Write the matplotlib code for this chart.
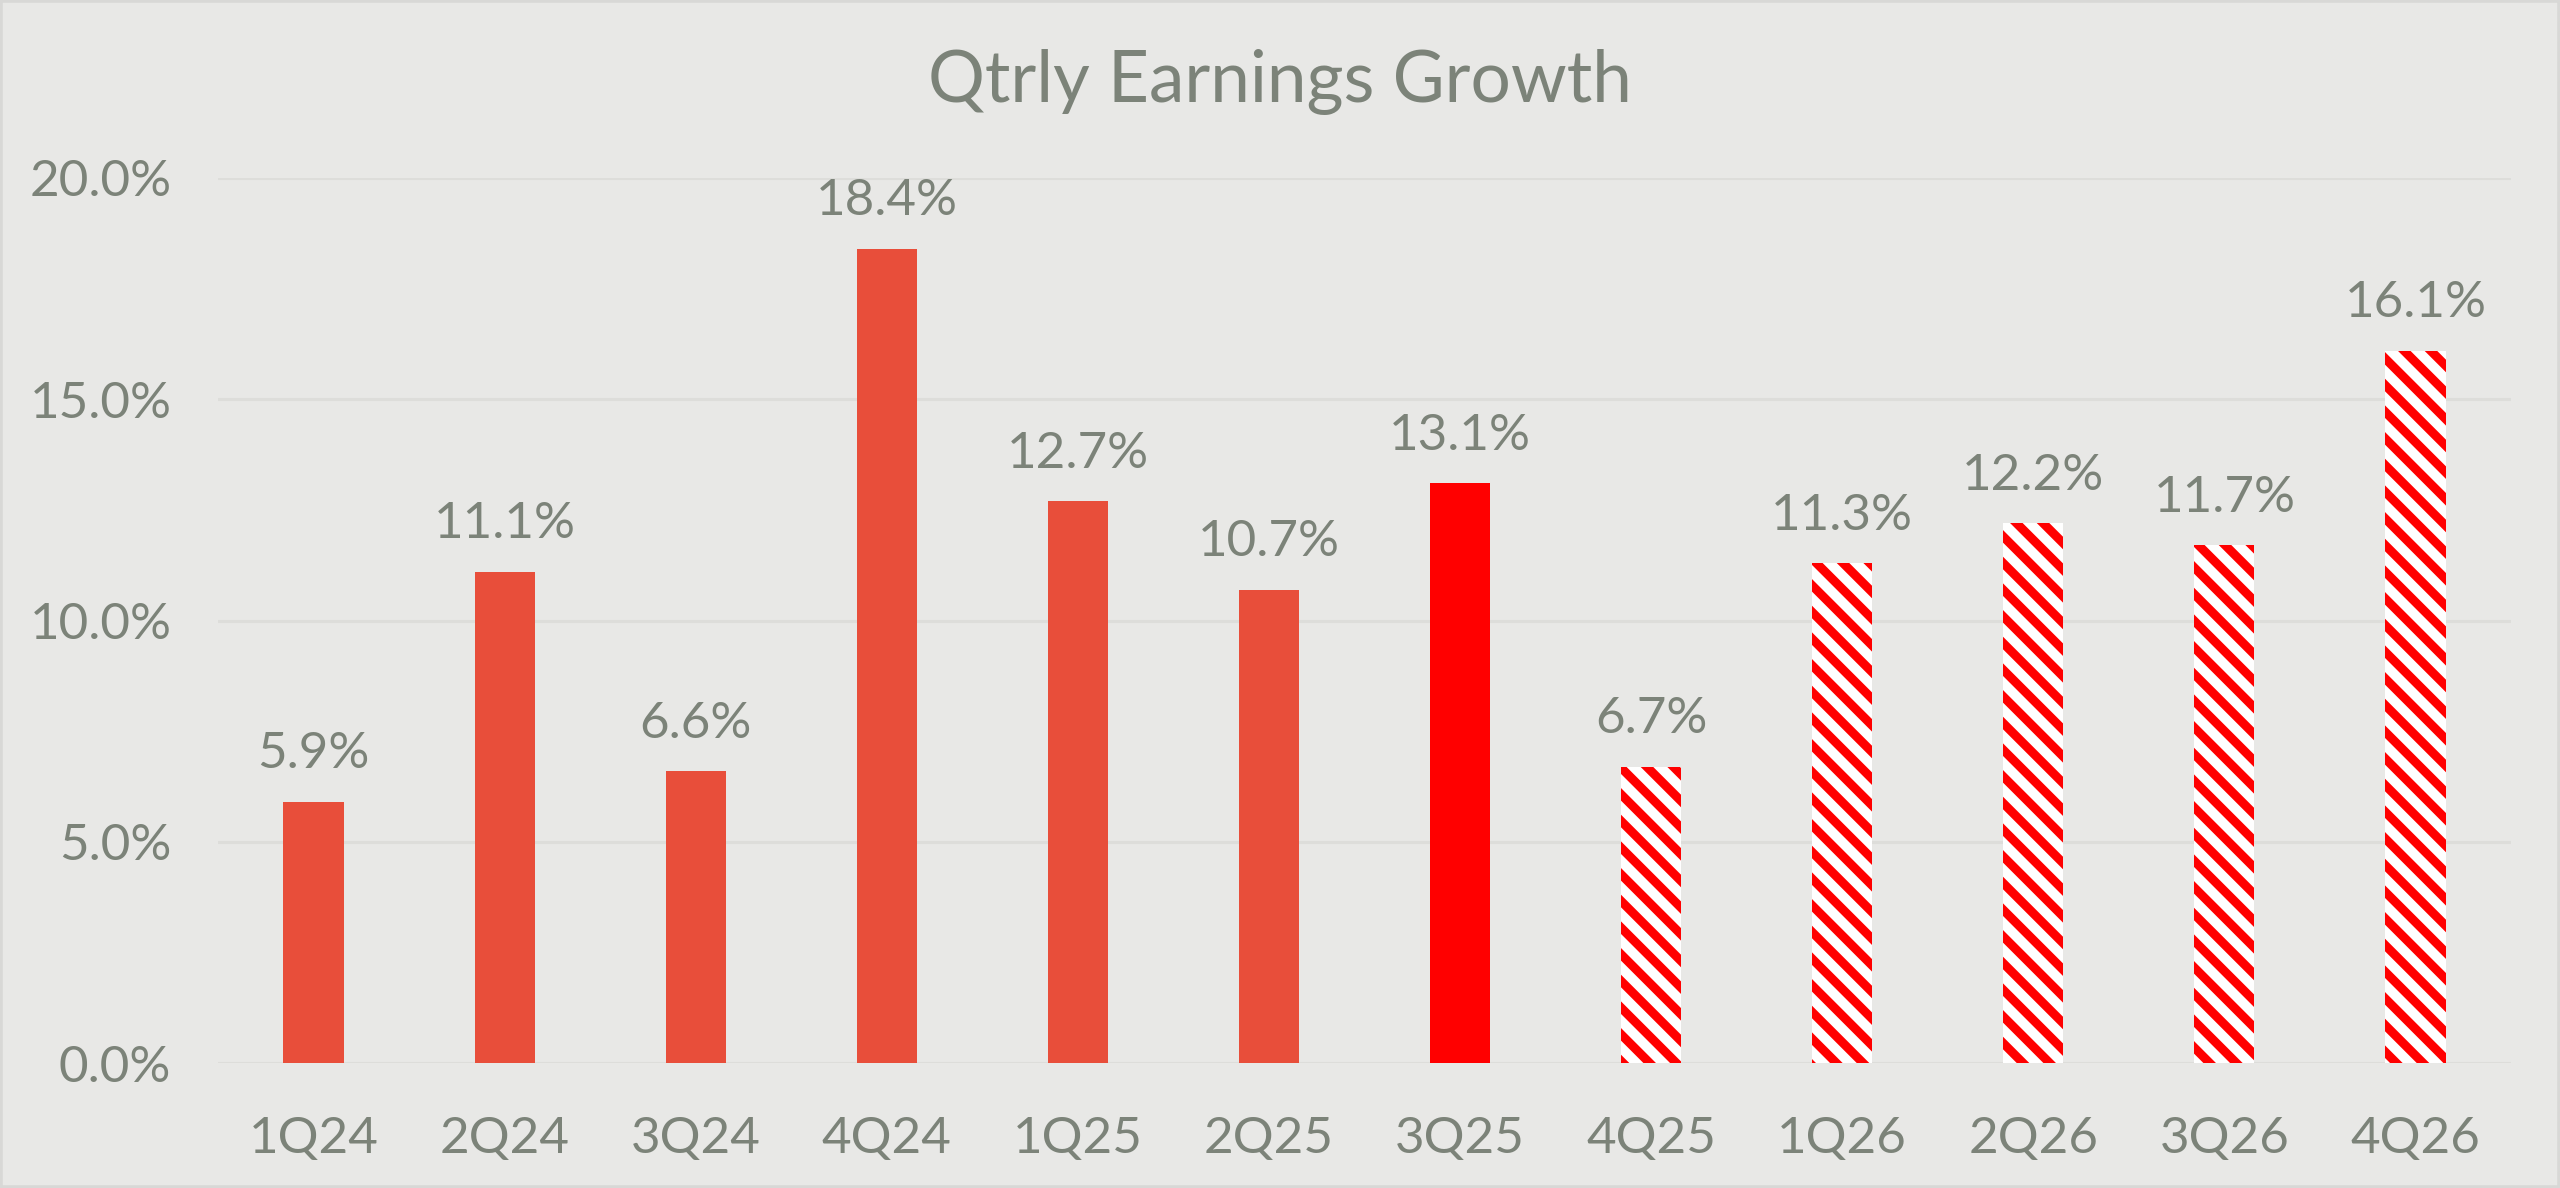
import matplotlib
matplotlib.use("Agg")
import matplotlib.pyplot as plt
from matplotlib.patches import Rectangle
from matplotlib.ticker import FuncFormatter

categories = ["1Q24", "2Q24", "3Q24", "4Q24", "1Q25", "2Q25", "3Q25",
              "4Q25", "1Q26", "2Q26", "3Q26", "4Q26"]
values = [5.9, 11.1, 6.6, 18.4, 12.7, 10.7, 13.1, 6.7, 11.3, 12.2, 11.7, 16.1]
kind = ["actual"] * 6 + ["current"] + ["estimate"] * 5
yticks = [0, 5, 10, 15, 20]

BG = "#E8E8E6"
TXT = "#7C8379"
BAR = "#E84E3A"
plt.rcParams["font.family"] = ["Lato", "DejaVu Sans"]
plt.rcParams["hatch.linewidth"] = 4.0

fig = plt.figure(figsize=(16, 7.425), dpi=160, facecolor=BG)
ax = fig.add_axes([218/2560, 1 - 1063/1188, (2511-218)/2560, (1063-178)/1188])
ax.set_facecolor(BG)

x = list(range(len(categories)))
for xi, v, k in zip(x, values, kind):
    if k == "actual":
        ax.bar(xi, v, width=0.315, color=BAR, linewidth=0, zorder=3)
    elif k == "current":
        ax.bar(xi, v, width=0.315, color="#FF0000", linewidth=0, zorder=3)
    else:
        ax.bar(xi, v, width=0.315, facecolor="white", edgecolor="#FF0000",
               hatch="\\\\", linewidth=0, zorder=3)
    ax.annotate(f"{v:.1f}%", (xi, v), xytext=(0, 11), textcoords="offset points",
                ha="center", va="bottom", fontsize=23, color=TXT)

ax.set_xlim(-0.5, len(categories) - 0.5)
ax.set_ylim(0, 20)
ax.set_yticks(yticks)
ax.yaxis.set_major_formatter(FuncFormatter(lambda v, p: f"{v:.1f}%"))
ax.set_xticks(x)
ax.set_xticklabels(categories)
ax.tick_params(axis="both", length=0, labelsize=23, labelcolor=TXT)
ax.tick_params(axis="y", pad=21)
ax.tick_params(axis="x", pad=24)
ax.grid(axis="y", color="#DDDDDA", linewidth=1.4, zorder=0)
ax.set_axisbelow(True)
for s in ax.spines.values():
    s.set_visible(False)

fig.text(0.5, 1 - 82/1188, "Qtrly Earnings Growth", ha="center", va="center",
         fontsize=32, color=TXT)

fig.patches.append(Rectangle((0, 0), 1, 1, transform=fig.transFigure,
                             fill=False, edgecolor="#D8D8D6", linewidth=2.5))

fig.savefig("out.png", dpi=160, facecolor=BG)
